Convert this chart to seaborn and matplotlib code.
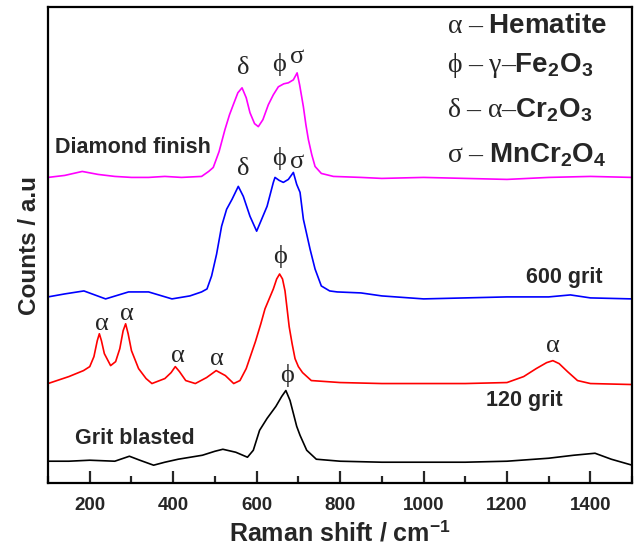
import matplotlib
matplotlib.use("Agg")
import matplotlib.pyplot as plt
import seaborn as sns
import pandas as pd
from matplotlib.ticker import MultipleLocator, NullLocator

# ---------------- data ----------------
diamond_x = [100, 140, 182, 220, 260, 300, 341, 380, 420, 468, 485, 496, 510, 524, 535, 544, 555, 565, 575, 584, 595, 604, 615, 628, 640, 652, 665, 676, 688, 697, 703, 712, 718, 724, 732, 740, 755, 784, 850, 900, 1000, 1100, 1200, 1300, 1400, 1500]
diamond_y = [312, 314, 318, 315, 313, 312, 312, 313, 312, 313, 318, 322, 338, 360, 375, 385, 397, 402, 392, 377, 366, 363, 370, 385, 395, 403, 406, 407, 410, 417, 405, 383, 365, 350, 335, 323, 316, 313, 312, 311, 312, 311, 310, 312, 313, 312]

grit600_x = [100, 140, 186, 238, 293, 341, 397, 440, 468, 481, 492, 504, 516, 528, 541, 556, 568, 584, 600, 612, 625, 640, 644, 654, 664, 676, 688, 696, 704, 712, 720, 728, 740, 755, 775, 793, 850, 900, 1000, 1100, 1200, 1300, 1352, 1400, 1500]
grit600_y = [192, 195, 198, 190, 197, 197, 190, 193, 197, 200, 213, 235, 263, 280, 290, 303, 293, 273, 258, 270, 283, 307, 312, 309, 307, 310, 317, 305, 297, 270, 255, 240, 220, 203, 198, 197, 196, 193, 190, 191, 192, 192, 194, 191, 190]

grit120_x = [100, 150, 185, 200, 210, 218, 223, 228, 235, 250, 262, 272, 280, 286, 292, 300, 317, 335, 349, 380, 395, 405, 415, 430, 453, 480, 503, 525, 545, 560, 575, 597, 610, 620, 632, 640, 648, 655, 662, 668, 673, 678, 685, 692, 700, 710, 731, 800, 900, 1000, 1100, 1200, 1240, 1270, 1295, 1310, 1325, 1345, 1369, 1400, 1500]
grit120_y = [105, 112, 118, 122, 132, 148, 155, 148, 135, 123, 127, 140, 158, 165, 155, 138, 120, 110, 105, 110, 116, 122, 117, 108, 105, 111, 118, 113, 105, 108, 120, 147, 165, 180, 192, 200, 210, 215, 210, 198, 180, 162, 145, 130, 122, 116, 108, 106, 105, 105, 105, 106, 112, 120, 126, 128, 125, 117, 108, 105, 104]

blasted_x = [100, 150, 200, 260, 295, 320, 353, 380, 412, 470, 500, 519, 550, 578, 592, 607, 625, 646, 660, 670, 680, 688, 696, 704, 720, 743, 800, 900, 1000, 1100, 1200, 1300, 1360, 1411, 1450, 1500]
blasted_y = [27, 27, 28, 27, 32, 28, 23, 26, 29, 33, 37, 39, 36, 31, 38, 58, 70, 82, 92, 98, 88, 75, 62, 53, 38, 29, 27, 26, 26, 26, 27, 30, 33, 35, 29, 23]

series_names = ["Diamond finish", "600 grit", "120 grit", "Grit blasted"]
series_colors = ["#ff00ff", "#0000ff", "#ff0000", "#000000"]

# curve labels: (text, x, y, ha)
curve_labels = [("Diamond finish", 117, 342, "left"),
                ("600 grit", 1337, 211, "center"),
                ("120 grit", 1241, 88, "center"),
                ("Grit blasted", 165, 50, "left")]

# peak markers: (symbol, x, y)
peak_marks = [("δ", 568, 422), ("ϕ", 654, 425), ("σ", 697, 433),
              ("δ", 568, 320), ("ϕ", 654, 331), ("σ", 697, 327),
              ("ϕ", 656, 233),
              ("α", 229, 165), ("α", 289, 175), ("α", 412, 133), ("α", 505, 130), ("α", 1311, 143),
              ("ϕ", 673, 113)]

legend_lines = [r"$\mathrm{α\ –\ }\mathbf{Hematite}$",
                r"$\mathrm{ϕ\ –\ γ–}\mathbf{Fe_2O_3}$",
                r"$\mathrm{δ\ –\ α–}\mathbf{Cr_2O_3}$",
                r"$\mathrm{σ\ –\ }\mathbf{MnCr_2O_4}$"]
legend_y = [457, 418, 372, 327]

# ---------------- style ----------------
sns.set_style("ticks")
plt.rcParams["font.family"] = ["Liberation Sans", "DejaVu Sans"]
plt.rcParams["mathtext.fontset"] = "custom"
plt.rcParams["mathtext.rm"] = "Liberation Serif"
plt.rcParams["mathtext.it"] = "Liberation Serif:italic"
plt.rcParams["mathtext.bf"] = "Liberation Sans:bold"

fig = plt.figure(figsize=(6.37, 5.49), dpi=100)
ax = fig.add_axes([0.0754, 0.12, 0.917, 0.867])

frames = []
for name, xs, ys in zip(series_names,
                        [diamond_x, grit600_x, grit120_x, blasted_x],
                        [diamond_y, grit600_y, grit120_y, blasted_y]):
    frames.append(pd.DataFrame({"shift": xs, "counts": ys, "sample": name}))
df = pd.concat(frames, ignore_index=True)

sns.lineplot(data=df, x="shift", y="counts", hue="sample", hue_order=series_names,
             palette=series_colors, linewidth=1.2, legend=False, ax=ax, estimator=None)

ax.set_xlim(100, 1500)
ax.set_ylim(5, 483)
ax.xaxis.set_major_locator(MultipleLocator(200))
ax.xaxis.set_minor_locator(MultipleLocator(100))
ax.yaxis.set_major_locator(NullLocator())
ax.yaxis.set_minor_locator(NullLocator())
ax.tick_params(axis="x", which="major", direction="in", length=9, width=1.6,
               labelsize=13.5, pad=10, top=False)
ax.tick_params(axis="x", which="minor", direction="in", length=5, width=1.6, top=False)
for lab in ax.get_xticklabels():
    lab.set_fontweight("bold")
for sp in ax.spines.values():
    sp.set_visible(True)
    sp.set_linewidth(1.6)
    sp.set_color("black")

ax.set_xlabel("Raman shift / cm$^{\\mathbf{-1}}$", fontsize=18, fontweight="bold", labelpad=5)
ax.set_ylabel("Counts / a.u", fontsize=17.5, fontweight="bold", labelpad=5)

for txt, x, y, ha in curve_labels:
    ax.text(x, y, txt, fontsize=15.5, fontweight="bold", ha=ha, va="center")

for sym, x, y in peak_marks:
    ax.text(x, y, sym, fontsize=19, family=["Liberation Serif", "DejaVu Serif"],
            ha="center", va="center")

for txt, y in zip(legend_lines, legend_y):
    ax.text(1057, y, txt, fontsize=20, ha="left", va="baseline")

fig.savefig("out.png", dpi=100)
